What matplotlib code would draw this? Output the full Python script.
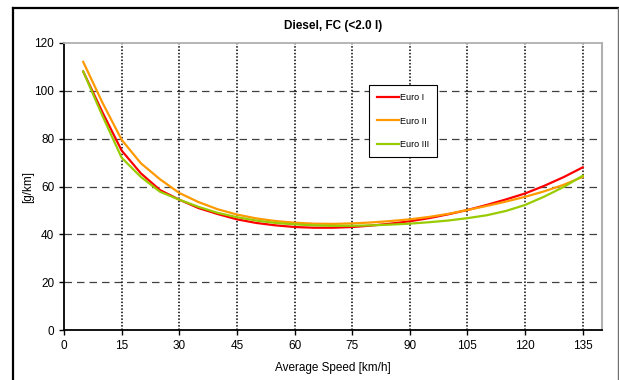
import numpy as np
import matplotlib.pyplot as plt
from matplotlib.lines import Line2D

plt.rcParams['font.family'] = ['Liberation Sans', 'DejaVu Sans']

speed = [5, 10, 15, 20, 25, 30, 35, 40, 45, 50, 55, 60, 65, 70,
         75, 80, 85, 90, 95, 100, 105, 110, 115, 120, 125, 130, 135]
euro1 = [108, 91, 75, 65.5, 58.5, 54.5, 51, 48.5, 46.3, 44.8, 43.8, 43.1, 42.8, 42.8,
         43.1, 43.7, 44.5, 45.5, 46.8, 48.4, 50.2, 52.3, 54.6, 57.1, 60.3, 63.9, 68]
euro2 = [112, 95, 79.5, 69.7, 63, 57.3, 53.5, 50.5, 48.3, 46.7, 45.6, 44.9, 44.5, 44.4,
         44.6, 45, 45.6, 46.3, 47.3, 48.6, 50.2, 51.9, 53.7, 55.7, 58, 60.7, 64]
euro3 = [108, 89.5, 72, 64, 57.8, 54.5, 51.5, 49, 47.2, 45.8, 44.8, 44.2, 43.8, 43.6,
         43.6, 43.8, 44.1, 44.5, 45.1, 45.8, 46.8, 48, 49.8, 52.3, 55.8, 59.8, 64.5]

labels = ["Euro I", "Euro II", "Euro III"]
colors = ["#FF0000", "#FF9900", "#99CC00"]
xticks = [0, 15, 30, 45, 60, 75, 90, 105, 120, 135]
yticks = [0, 20, 40, 60, 80, 100, 120]

fig = plt.figure(figsize=(6.19, 3.80), dpi=100)
ax = fig.add_axes([0.1034, 0.1308, 0.8691, 0.7568])

for y, lab, c in zip([euro1, euro2, euro3], labels, colors):
    ax.plot(speed, y, color=c, lw=1.6, label=lab)

ax.set_xlim(0, 140)
ax.set_ylim(0, 120)
ax.set_xticks(xticks)
ax.set_yticks(yticks)
ax.tick_params(labelsize=8.5, length=3.5, width=1, direction='out', colors='black')

# grid: dashed horizontals, dotted verticals
for v in yticks[1:-1]:
    ax.axhline(v, color='#404040', lw=0.9, ls=(0, (6, 4)), zorder=0)
for v in xticks[1:]:
    ax.axvline(v, color='black', lw=1.1, ls=(0, (1, 1.2)), zorder=0)

ax.spines['left'].set_linewidth(1.3)
ax.spines['bottom'].set_linewidth(1.3)
ax.spines['top'].set_color('#b0b0b0')
ax.spines['right'].set_color('#b0b0b0')
ax.spines['top'].set_linewidth(1.3)
ax.spines['right'].set_linewidth(1.5)

ax.set_title("Diesel, FC (<2.0 l)", fontsize=8.5, fontweight='bold', pad=10)
ax.set_xlabel("Average Speed [km/h]", fontsize=8.5, labelpad=7)
ax.set_ylabel("[g/km]", fontsize=8.5, labelpad=0)

leg = ax.legend(loc='upper left', bbox_to_anchor=(0.5675, 0.853), fontsize=6.5,
                frameon=True, fancybox=False, edgecolor='black', framealpha=1,
                handlelength=2.4, handletextpad=0.1, labelspacing=1.6,
                borderpad=0.9, borderaxespad=0)
leg.get_frame().set_linewidth(0.8)

# outer chart frame
fig.add_artist(Line2D([13/619, 13/619], [0, 1 - 8/380], color='black', lw=1.6,
                      transform=fig.transFigure))
fig.add_artist(Line2D([13/619, 618/619], [1 - 8/380, 1 - 8/380], color='black', lw=1.6,
                      transform=fig.transFigure))
fig.add_artist(Line2D([618/619, 618/619], [0, 1 - 8/380], color='#707070', lw=1.0,
                      transform=fig.transFigure))

fig.savefig("out.png", dpi=100)
